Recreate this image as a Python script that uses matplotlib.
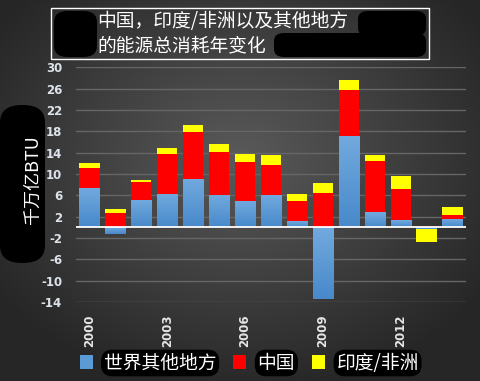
import numpy as np
import matplotlib
matplotlib.use('Agg')
import matplotlib.pyplot as plt
from matplotlib.patches import FancyBboxPatch, Rectangle, Patch
from matplotlib.colors import LinearSegmentedColormap

# ---------------- data ----------------
years = list(range(2000, 2015))
rest_of_world = [7.4, -1.2, 5.1, 6.2, 9.0, 6.0, 4.9, 6.0, 1.1, -13.4, 17.1, 2.8, 1.3, -0.4, 1.5]
china = [3.7, 2.6, 3.4, 7.5, 8.8, 8.1, 7.3, 5.6, 3.8, 6.4, 8.6, 9.6, 5.8, 0.3, 0.75]
india_africa = [0.9, 0.8, 0.4, 1.1, 1.3, 1.5, 1.5, 1.9, 1.3, 2.0, 1.9, 1.1, 2.5, -2.4, 1.5]
tick_years = [2000, 2003, 2006, 2009, 2012]
yticks = list(range(-14, 31, 4))
series_labels = ['世界其他地方', '中国', '印度/非洲']
title_text = '中国，印度/非洲以及其他地方\n的能源总消耗年变化'
ylabel_text = '千万亿BTU'

colors = ['#5b9bd5', '#ff0000', '#ffff00']
CJK = ['Noto Sans CJK SC', 'DejaVu Sans']
plt.rcParams['font.family'] = CJK

W, H = 480, 381
fig = plt.figure(figsize=(W / 100, H / 100), dpi=100)

def fx(px):
    return px / W

def fy(py):
    return 1 - py / H

# background radial gradient
bg = fig.add_axes([0, 0, 1, 1], zorder=-10)
gx, gy = np.meshgrid(np.linspace(0, 1, 240), np.linspace(0, 1, 190))
r = np.sqrt(((gx - 0.5) / 0.62) ** 2 + ((gy - 0.42) / 0.62) ** 2)
r = np.clip(r, 0, 1)
val = (0x5a - (0x5a - 0x26) * r) / 255.0
img = np.dstack([val, val, val])
bg.imshow(img, extent=[0, 1, 0, 1], aspect='auto', origin='upper')
bg.set_axis_off()

# main axes
ax = fig.add_axes([fx(76), fy(302), fx(466) - fx(76), fy(67.3) - fy(302)])
ax.set_facecolor('none')

blue_cmap = LinearSegmentedColormap.from_list('bl', ['#4889cb', '#72aade'])
grad = np.linspace(0, 1, 64).reshape(-1, 1)

x = np.arange(len(years))
pos_bottom = np.zeros(len(years))
neg_bottom = np.zeros(len(years))
for si, (vals, c) in enumerate(zip([rest_of_world, china, india_africa], colors)):
    v = np.array(vals, dtype=float)
    bottom = np.where(v >= 0, pos_bottom, neg_bottom)
    bars = ax.bar(x, v, bottom=bottom, width=0.78, color=c, zorder=3, linewidth=0)
    if si == 0:
        for b in bars:
            x0, y0 = b.get_x(), b.get_y()
            w, h = b.get_width(), b.get_height()
            lo, hi = min(y0, y0 + h), max(y0, y0 + h)
            im = ax.imshow(grad, cmap=blue_cmap, extent=[x0, x0 + w, lo, hi],
                           origin='lower', aspect='auto', zorder=3.5)
            im.set_clip_path(b)
    pos_bottom = pos_bottom + np.where(v >= 0, v, 0)
    neg_bottom = neg_bottom + np.where(v < 0, v, 0)

ax.set_xlim(-0.52, len(years) - 0.48)
ax.set_ylim(-14, 30)
ax.set_yticks(yticks)
ax.set_yticklabels([str(t) for t in yticks], color='#dde3ea', fontsize=8.5,
                   fontweight='bold', family=['DejaVu Sans'])
ax.yaxis.grid(True, color='#666666', linewidth=1, zorder=0)
ax.set_axisbelow(True)
ax.axhline(0, color='white', linewidth=1.3, zorder=4)
ax.set_xticks([years.index(t) for t in tick_years])
ax.set_xticklabels([str(t) for t in tick_years], rotation=90, color='#e6e6e6',
                   fontsize=8.5, fontweight='bold', family=['DejaVu Sans'], va='top')
ax.tick_params(axis='both', length=0)
ax.tick_params(axis='y', pad=10)
ax.tick_params(axis='x', pad=9)
for s in ax.spines.values():
    s.set_visible(False)

# title box with black blobs
def blob(x0, y0, x1, y1, rad=10):
    p = FancyBboxPatch((fx(x0), fy(y1)), fx(x1) - fx(x0), fy(y0) - fy(y1),
                       boxstyle='round,pad=0,rounding_size=%f' % (rad / W),
                       transform=fig.transFigure, fc='black', ec='none', zorder=1)
    fig.patches.append(p)

blob(54, 11, 97, 57, 14)
blob(358, 11, 426, 36, 10)
blob(274, 33, 426, 57, 10)
blob(0, 105, 45, 263, 22)

fig.patches.append(Rectangle((fx(51), fy(59.3)), fx(429) - fx(51), fy(8.3) - fy(59.3),
                             transform=fig.transFigure, fill=False, ec='white', lw=1, zorder=2))
fig.text(fx(97), fy(11), title_text, color='white', fontsize=13.5, ha='left', va='top',
         linespacing=1.2, zorder=3)

fig.text(fx(33), fy(180), ylabel_text, color='white', fontsize=13, rotation=90,
         ha='center', va='center', zorder=3)

# legend
handles = [Patch(facecolor=c, edgecolor='none') for c in colors]
leg = ax.legend(handles, series_labels, loc='center left', ncol=3, frameon=False,
                bbox_to_anchor=(fx(72), fy(363)), bbox_transform=fig.transFigure,
                handlelength=0.7, handleheight=0.7, handletextpad=0.6,
                columnspacing=0.9, fontsize=13.5, borderaxespad=0)
for t in leg.get_texts():
    t.set_color('white')
    t.set_bbox(dict(boxstyle='round,pad=0.15,rounding_size=0.6', fc='black', ec='none'))

fig.savefig('out.png', dpi=100)
